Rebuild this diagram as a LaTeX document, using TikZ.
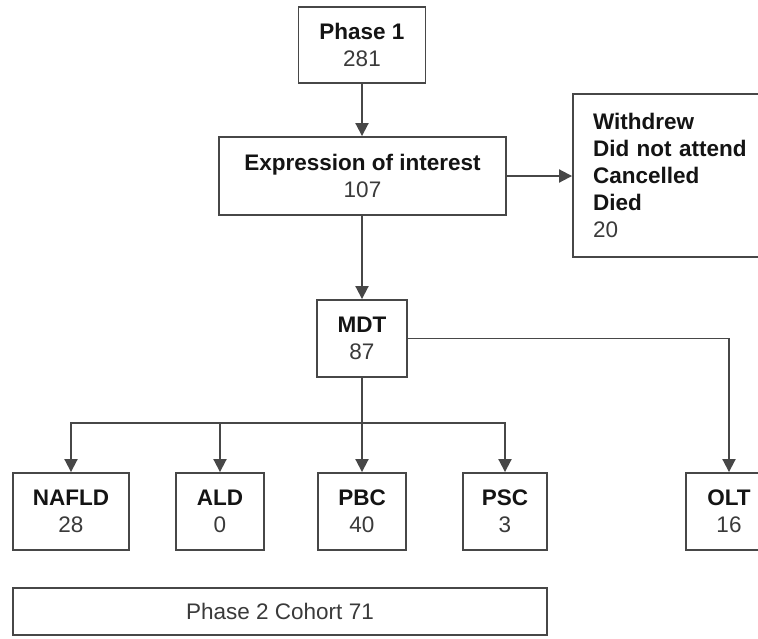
\documentclass[tikz,border=0pt]{standalone}
\usepackage{fontspec}
\setmainfont{Liberation Sans}
\usetikzlibrary{arrows.meta}
\definecolor{boxline}{HTML}{474747}
\definecolor{numtext}{HTML}{3A3A3A}
\definecolor{headtext}{HTML}{141414}
\begin{document}
\begin{tikzpicture}[x=1pt,y=-1pt,
  box/.style={draw=boxline,line width=1.9pt,fill=white,inner sep=0pt,
    align=center,font=\fontsize{22.5}{27}\selectfont,text=numtext},
  arr/.style={draw=boxline,line width=1.9pt,-{Triangle[length=13pt,width=13pt]}},
  link/.style={draw=boxline,line width=1.9pt}]
\clip (0,0) rectangle (758,638);
\fill[white] (0,0) rectangle (758,638);
\newcommand{\hd}[1]{{\color{headtext}\bfseries #1}}
\node[box,minimum width=127pt,minimum height=76pt] (p1) at (362,45) {\hd{Phase 1}\\281};
\node[box,minimum width=287pt,minimum height=78pt] (eoi) at (362.5,176) {\hd{Expression of interest}\\107};
\node[box,minimum width=200pt,minimum height=163pt,align=left,text width=160pt,inner xsep=20pt] (wd) at (673,175.5)
  {\hd{Withdrew}\\\hd{Did not attend}\\\hd{Cancelled}\\\hd{Died}\\20};
\node[box,minimum width=90pt,minimum height=77pt] (mdt) at (362,338.5) {\hd{MDT}\\87};
\node[box,minimum width=116pt,minimum height=77pt] (nafld) at (71,511.5) {\hd{NAFLD}\\28};
\node[box,minimum width=88pt,minimum height=77pt] (ald) at (220,511.5) {\hd{ALD}\\0};
\node[box,minimum width=88pt,minimum height=77pt] (pbc) at (362,511.5) {\hd{PBC}\\40};
\node[box,minimum width=84pt,minimum height=77pt] (psc) at (505,511.5) {\hd{PSC}\\3};
\node[box,minimum width=86pt,minimum height=77pt] (olt) at (729,511.5) {\hd{OLT}\\16};
\node[box,minimum width=534pt,minimum height=47pt,font=\fontsize{22.5}{25}\selectfont] (ph2) at (280,611.5) {Phase 2 Cohort 71};
\coordinate (bus) at (362,423);
\draw[arr] (p1.south) -- (eoi.north -| p1.south);
\draw[arr] (eoi.east) -- (wd.west |- eoi.east);
\draw[arr] (eoi.south -| mdt.north) -- (mdt.north);
\draw[link] (mdt.south) -- (bus);
\draw[arr] (bus) -| (nafld.north);
\draw[arr] (bus) -| (ald.north);
\draw[arr] (bus) -- (pbc.north);
\draw[arr] (bus) -| (psc.north);
\draw[arr] (mdt.east) -| (olt.north);
\end{tikzpicture}
\end{document}
